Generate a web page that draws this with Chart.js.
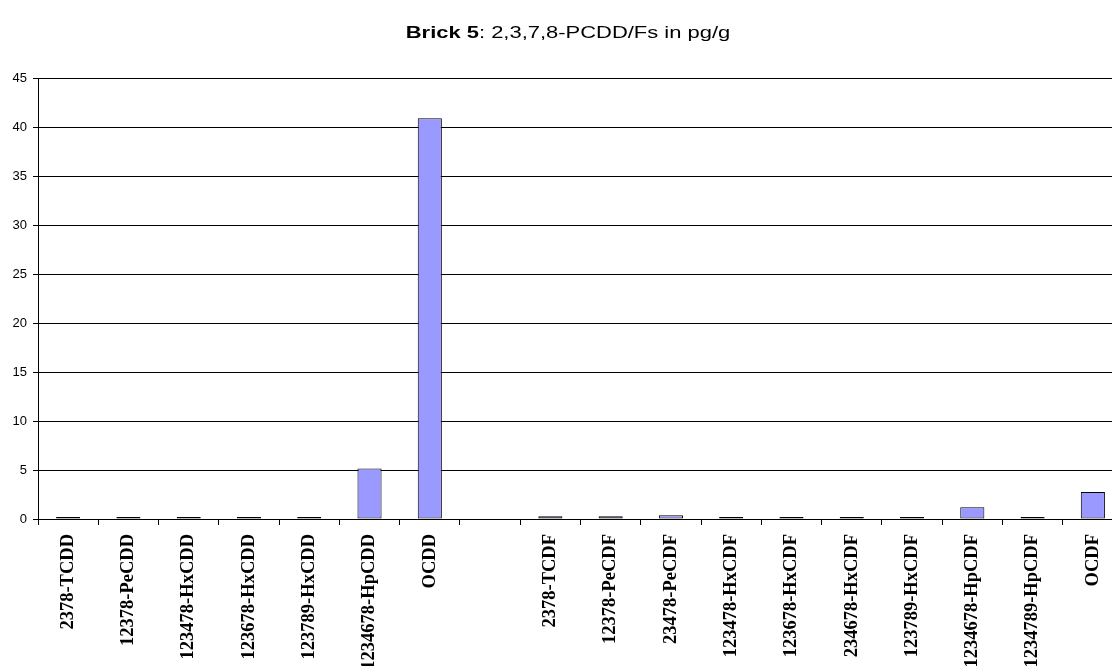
<!DOCTYPE html>
<html>
<head>
<meta charset="utf-8">
<script src="https://cdn.jsdelivr.net/npm/chart.js@4/dist/chart.umd.min.js"></script>
<style>
  html, body { margin: 0; padding: 0; background: #fff; }
  #wrap { position: relative; width: 1112px; height: 666px; overflow: hidden; }
  #title {
    position: absolute; top: 22px; left: 568px;
    transform: translateX(-50%) scaleX(1.33);
    font: 16.5px "Liberation Sans", Arial, sans-serif; line-height: 20px;
    white-space: nowrap; color: #000;
  }
  #brickChart { position: absolute; left: 0; top: 0; }
</style>
</head>
<body>
<div id="wrap">
  <!-- plot runs a little past the right edge, like the cropped original -->
  <canvas id="brickChart" width="1126" height="666"></canvas>
  <div id="title"><b>Brick 5</b>: 2,3,7,8-PCDD/Fs in pg/g</div>
</div>
<script>
  // congeners (empty slot separates dioxins from furans)
  const congeners = [
    '2378-TCDD', '12378-PeCDD', '123478-HxCDD', '123678-HxCDD', '123789-HxCDD',
    '1234678-HpCDD', 'OCDD', '',
    '2378-TCDF', '12378-PeCDF', '23478-PeCDF', '123478-HxCDF', '123678-HxCDF',
    '234678-HxCDF', '123789-HxCDF', '1234678-HpCDF', '1234789-HpCDF', 'OCDF'
  ];
  // pg/g
  const concentrations = [
    0.2, 0.2, 0.2, 0.2, 0.2, 5.15, 40.9, null,
    0.28, 0.28, 0.38, 0.2, 0.2, 0.2, 0.2, 1.2, 0.2, 2.75
  ];
  const yTicks = [0, 5, 10, 15, 20, 25, 30, 35, 40, 45];

  const ctx = document.getElementById('brickChart').getContext('2d');
  const brickChart = new Chart(ctx, {
    type: 'bar',
    data: {
      labels: congeners,
      datasets: [{
        label: 'Brick 5',
        data: concentrations,
        backgroundColor: '#9999FF',
        borderColor: '#000',
        borderWidth: 1,
        borderSkipped: false,
        barPercentage: 0.4,
        categoryPercentage: 1.0
      }]
    },
    options: {
      responsive: false,
      animation: false,
      layout: { padding: { top: 78, right: 3, left: 0, bottom: 0 } },
      plugins: {
        legend: { display: false },
        title: { display: false },
        tooltip: { enabled: false }
      },
      scales: {
        x: {
          offset: true,
          grid: {
            offset: true,
            drawOnChartArea: false,
            drawTicks: true,
            tickLength: 6,
            color: '#000'
          },
          border: { color: '#000', width: 1 },
          ticks: {
            autoSkip: false,
            maxRotation: 90,
            minRotation: 90,
            padding: 9,
            color: '#000',
            font: { family: '"Liberation Serif", "Times New Roman", serif', size: 18.5, weight: 'bold' }
          },
          afterFit: scale => { scale.height = 147; }
        },
        y: {
          min: 0,
          max: 45,
          afterBuildTicks: scale => { scale.ticks = yTicks.map(v => ({ value: v })); },
          grid: { color: '#000', tickLength: 5, drawTicks: true },
          border: { color: '#000', width: 1 },
          ticks: {
            padding: 6,
            color: '#000',
            font: { family: '"Liberation Sans", Arial, sans-serif', size: 13 }
          },
          afterFit: scale => { scale.width = 38; }
        }
      }
    }
  });
</script>
</body>
</html>
